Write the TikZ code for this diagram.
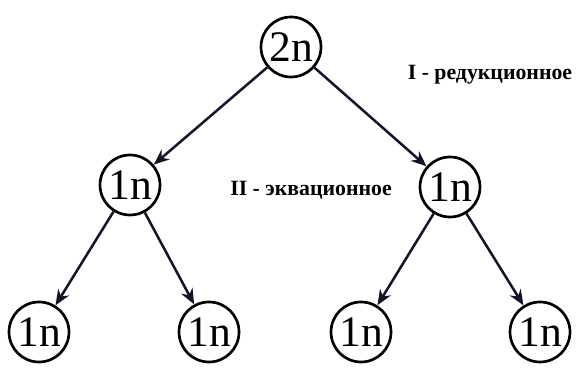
\documentclass[tikz,border=0pt]{standalone}
\usepackage{fontspec}
\setmainfont{Liberation Serif}
\usetikzlibrary{arrows.meta}
\definecolor{MDLine}{HTML}{141428}
\tikzset{
  cell/.style={draw=black,line width=1.9pt,circle,minimum size=1.5cm,inner sep=0pt,font=\fontsize{31}{31}\selectfont},
  div/.style={draw=MDLine,line width=1.8pt,-{Stealth[length=11pt,width=9pt]}},
  phase/.style={font=\fontsize{15.5}{17}\selectfont\bfseries}
}
\begin{document}
\begin{tikzpicture}[x=1cm,y=1cm]
\path[use as bounding box] (0,0) rectangle (14.575,9.45);
\node[cell] (top) at (7.275,8.275) {2n};
\node[cell] (ml) at (3.25,4.825) {1n};
\node[cell] (mr) at (11.25,4.775) {1n};
\node[cell] (b1) at (0.975,1.15) {1n};
\node[cell] (b2) at (5.225,1.15) {1n};
\node[cell] (b3) at (9.025,1.15) {1n};
\node[cell] (b4) at (13.5,1.15) {1n};
\node[phase] (p1) at (12.25,7.575) {I - редукционное};
\node[phase] (p2) at (7.775,4.7) {II - эквационное};
\draw[div] (top) -- (ml);
\draw[div] (top) -- (mr);
\draw[div] (ml) -- (b1);
\draw[div] (ml) -- (b2);
\draw[div] (mr) -- (b3);
\draw[div] (mr) -- (b4);
\end{tikzpicture}
\end{document}
